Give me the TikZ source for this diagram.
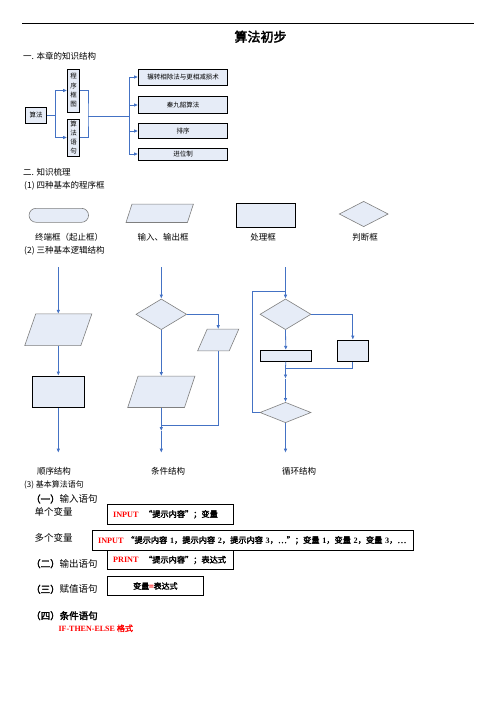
\documentclass[tikz,border=0pt]{standalone}
\usepackage{fontspec}
\setmainfont{Liberation Serif}
\newfontfamily\cjk{Noto Sans CJK SC}[AutoFakeBold=2.5]
\usetikzlibrary{positioning, arrows.meta, calc, shapes.geometric, shapes.misc}
\definecolor{boxfill}{HTML}{E6ECF7}
\definecolor{flowblue}{HTML}{4472C4}
\definecolor{edgegray}{HTML}{7F7F7F}
\newcommand{\fs}[1]{\fontsize{#1}{#1}\selectfont}
\newcommand{\kwd}[1]{\textcolor{red}{#1}}
% input/output box: name, centre, width, height, half slant
\newcommand{\paral}[5]{%
    \node[ioanchor, minimum width=#3, minimum height=#4] (#1) at #2 {};
    \filldraw[grayshape] ([xshift=-#5]#1.south west) -- ([xshift=#5]#1.north west)
        -- ([xshift=#5]#1.north east) -- ([xshift=-#5]#1.south east) -- cycle;}

\begin{document}
\begin{tikzpicture}[
    x=1pt, y=-1pt,
    heading/.style={
        anchor=west,
        inner sep=0pt,
        font=\cjk\fs{8.5}
    },
    caption/.style={
        inner sep=0pt,
        font=\cjk\fs{8.5}
    },
    stmtlabel/.style={
        anchor=west,
        inner sep=0pt,
        font=\cjk\fs{9.5}
    },
    topicbox/.style={
        draw,
        line width=0.8pt,
        fill=boxfill,
        inner sep=0pt,
        font=\cjk\fs{6.5}
    },
    vbox/.style={
        topicbox,
        align=center,
        font=\cjk\fontsize{6.5}{9.3}\selectfont
    },
    procbox/.style={
        draw,
        line width=0.8pt,
        fill=boxfill,
        inner sep=0pt
    },
    grayshape/.style={
        draw=edgegray,
        line width=0.6pt,
        fill=boxfill,
        inner sep=0pt
    },
    ioanchor/.style={
        inner sep=0pt
    },
    decision/.style={
        grayshape,
        diamond
    },
    terminal/.style={
        grayshape,
        rounded rectangle
    },
    codebox/.style={
        draw,
        line width=0.8pt,
        anchor=west,
        minimum height=19.3pt,
        inner xsep=6pt,
        inner ysep=0pt,
        font=\bfseries\fs{8.2}
    },
    flow/.style={
        draw=flowblue,
        line width=0.8pt
    },
    flowarr/.style={
        flow,
        -{Latex[length=4pt, width=3.6pt]}
    }
]
    \useasboundingbox (0,0) rectangle (496,702);

    % Title
    \coordinate (headl) at (22,23.5);
    \coordinate (headr) at (474,23.5);
    \draw[line width=0.7pt] (headl) -- (headr);
    \node[font=\cjk\bfseries\fs{13}] (title) at (260.5,36.7) {算法初步};

    % Part one: knowledge structure
    \node[heading] (sec1) at (23,56) {一. 本章的知识结构};
    \node[topicbox, minimum width=21pt, minimum height=16pt] (algo) at (36,115.5) {算法};
    \node[vbox, minimum width=12pt, minimum height=43pt] (kuangtu) at (73.5,90.5) {程\\序\\框\\图};
    \node[vbox, minimum width=12pt, minimum height=37pt] (yuju) at (73.5,137.5) {算\\法\\语\\句};
    \node[topicbox, minimum width=89pt, minimum height=16pt] (gcd) at (183,77) {辗转相除法与更相减损术};
    \node[topicbox, minimum width=89pt, minimum height=17pt] (qin) at (183,105) {秦九韶算法};
    \node[topicbox, minimum width=89pt, minimum height=15pt] (sorting) at (183,131) {排序};
    \node[topicbox, minimum width=89pt, minimum height=12pt] (radix) at (183,154) {进位制};

    \coordinate (fork1) at (55,115.5);
    \coordinate (merge) at (88,116);
    \coordinate (fork2) at (129,116);
    \draw[flowarr] (algo.east) -- (fork1) |- (kuangtu.west);
    \draw[flowarr] (fork1) |- (yuju.west);
    \draw[flow] (kuangtu.east) -| (merge) |- (yuju.east);
    \draw[flow] (merge) -- (fork2);
    \draw[flowarr] (fork2) |- (gcd.west);
    \draw[flowarr] (fork2) |- (qin.west);
    \draw[flowarr] (fork2) |- (sorting.west);
    \draw[flowarr] (fork2) |- (radix.west);

    % Part two: the four boxes
    \node[heading] (sec2) at (23,172.7) {二. 知识梳理};
    \node[heading] (frames) at (24,186) {(1) 四种基本的程序框};
    \node[terminal, minimum width=59.5pt, minimum height=14pt] (termshape) at (58.8,215.3) {};
    \paral{ioshape}{(159.7,213.3)}{61pt}{18pt}{3pt}
    \node[procbox, minimum width=59pt, minimum height=24.4pt] (procshape) at (265.5,215.5) {};
    \node[decision, minimum width=49pt, minimum height=25.4pt] (decshape) at (363.7,214) {};
    \node[caption] (termlabel) at (69,237.7) {终端框（起止框）};
    \node[caption] (iolabel) at (163,237.7) {输入、输出框};
    \node[caption] (proclabel) at (263,237.7) {处理框};
    \node[caption] (declabel) at (365,237.7) {判断框};

    % The three structures
    \node[heading] (structs) at (24,250.7) {(2) 三种基本逻辑结构};

    % sequence
    \coordinate (seqtop) at (58.3,267.3);
    \coordinate (seqend) at (58.3,452.7);
    \paral{seqio}{(58.3,329.7)}{55.7pt}{31.3pt}{5.5pt}
    \node[procbox, minimum width=52pt, minimum height=31.3pt] (seqbox) at (58.3,391.7) {};
    \draw[flowarr] (seqtop) -- (seqio.north);
    \draw[flowarr] (seqio.south) -- (seqbox.north);
    \draw[flowarr] (seqbox.south) -- (seqend);

    % condition
    \coordinate (condtop) at (161.3,267.3);
    \coordinate (condjoin) at (161.3,425.3);
    \coordinate (condmid) at (161.3,431);
    \coordinate (condend) at (161.3,452.7);
    \node[decision, minimum width=50.7pt, minimum height=30.7pt] (conddia) at (161.3,314.3) {};
    \paral{condio2}{(218.2,340)}{31.2pt}{21.4pt}{4.8pt}
    \paral{condio3}{(161.3,391.8)}{56.4pt}{31pt}{5.2pt}
    \draw[flowarr] (condtop) -- (conddia.north);
    \draw[flowarr] (conddia.east) -| (condio2.north);
    \draw[flowarr] (conddia.south) -- (condio3.north);
    \draw[flow] (condio3.south) -- (condjoin);
    \draw[flow] (condio2.south) |- (condjoin);
    \draw[flowarr] (condjoin) -- (condmid);
    \draw[flowarr] (condmid) -- (condend);

    % loop
    \coordinate (looptop) at (285.5,267.3);
    \coordinate (loopin) at (285.5,291.7);
    \coordinate (loopleft) at (252,291.7);
    \coordinate (loopjoin) at (285.5,368.3);
    \coordinate (loopmid) at (285.5,378.5);
    \coordinate (loopend) at (285.5,452.7);
    \node[decision, minimum width=51pt, minimum height=30.7pt] (loopdia) at (285.5,314.3) {};
    \node[procbox, minimum width=51pt, minimum height=11pt] (loopbox1) at (285.8,355.8) {};
    \node[procbox, minimum width=31pt, minimum height=21.3pt] (loopbox2) at (352.8,350.7) {};
    \node[decision, minimum width=51pt, minimum height=20.4pt] (loopdia2) at (285.5,412.5) {};
    \draw[flow] (looptop) -- (loopin);
    \draw[flowarr] (loopin) -- (loopdia.north);
    \draw[flowarr] (loopdia.east) -| (loopbox2.north);
    \draw[flowarr] (loopdia.south) -- (loopbox1.north);
    \draw[flow] (loopbox1.south) -- (loopjoin);
    \draw[flow] (loopbox2.south) |- (loopjoin);
    \draw[flowarr] (loopjoin) -- (loopmid);
    \draw[flowarr] (loopmid) -- (loopdia2.north);
    \draw[flow] (loopdia2.west) -| (loopleft) -- (loopin);
    \draw[flowarr] (loopdia2.south) -- (loopend);

    \node[caption] (seqlabel) at (54,471.7) {顺序结构};
    \node[caption] (condlabel) at (168,471.7) {条件结构};
    \node[caption] (looplabel) at (299,471.7) {循环结构};

    % Part three: statements
    \node[heading, font=\cjk\fs{8}] (stmts) at (24,485) {(3) 基本算法语句};
    \node[stmtlabel] (inputlabel) at (31,499) {{\bfseries （一）}输入语句};
    \node[stmtlabel] (singlelabel) at (34.3,512.3) {单个变量};
    \node[stmtlabel] (multilabel) at (34.3,538.3) {多个变量};
    \node[stmtlabel] (printlabel) at (31,563.7) {{\bfseries （二）}输出语句};
    \node[stmtlabel] (assignlabel) at (31,589.3) {{\bfseries （三）}赋值语句};
    \node[stmtlabel, font=\cjk\bfseries\fs{9.5}] (iflabel) at (31,615.7) {（四）条件语句};
    \node[stmtlabel, font=\bfseries\fs{8}, text=red] (ifform) at (58.3,628.3) {IF-THEN-ELSE {\cjk 格式}};

    \node[codebox, text width=114.7pt, align=left] (singlebox) at (106.7,514.3)
        {\mbox{\kwd{INPUT}\ \ {\cjk “提示内容”；变量}}};
    \node[codebox, text width=309.6pt, align=left] (multibox) at (91.7,540.3)
        {\mbox{\kwd{INPUT}\ {\cjk “提示内容} 1{\cjk ，提示内容} 2{\cjk ，提示内容} 3{\cjk ，…”；变量} 1{\cjk ，变量} 2{\cjk ，变量} 3{\cjk ，…}}};
    \node[codebox, text width=114.7pt, align=left] (printbox) at (106.7,560)
        {\mbox{\kwd{PRINT}\ \ {\cjk “提示内容”；表达式}}};
    \node[codebox, minimum width=96.6pt, font=\cjk\bfseries\fs{8}] (assignbox) at (106.7,586)
        {变量\kwd{=}表达式};

\end{tikzpicture}
\end{document}
